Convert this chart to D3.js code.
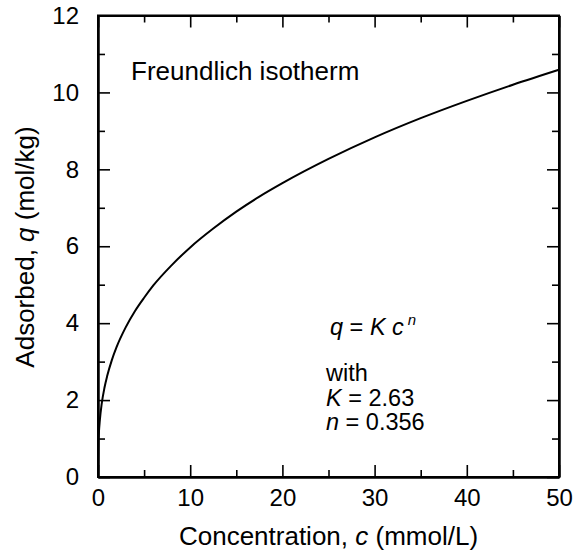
<!DOCTYPE html>
<html>
<head>
<meta charset="utf-8">
<script src="https://cdn.jsdelivr.net/npm/d3@7"></script>
<style>
  body { margin: 0; background: #fff; }
  svg { display: block; font-family: "Liberation Sans", Arial, sans-serif; }
</style>
</head>
<body>
<script>
// values
const conc = [0, 0.05, 0.1, 0.2, 0.4, 0.7, 1, 1.5, 2, 3, 4, 5, 6, 8, 10, 12.5, 15, 17.5, 20, 25, 30, 35, 40, 45, 50]
const adsorbed = [0, 0.9, 1.16, 1.48, 1.9, 2.32, 2.63, 3.04, 3.37, 3.89, 4.31, 4.66, 4.98, 5.51, 5.97, 6.46, 6.9, 7.29, 7.64, 8.27, 8.83, 9.33, 9.78, 10.2, 10.59]
const xTicks = [0, 10, 20, 30, 40, 50]
const yTicks = [0, 2, 4, 6, 8, 10, 12]

const w = 575
const h = 553
const m = { left: 98, right: 16, top: 15.5, bottom: 76 }

const x = d3.scaleLinear().domain([0, 50]).range([m.left, w - m.right])
const y = d3.scaleLinear().domain([0, 12]).range([h - m.bottom, m.top])

const svg = d3.select('body').append('svg').attr('width', w).attr('height', h)

const major = 12
const minor = 7
const xMinor = d3.range(5, 50, 10)
const yMinor = d3.range(1, 12, 2)

// bottom / top axes
const gBottom = svg.append('g').attr('transform', `translate(0,${y(0)})`)
  .call(d3.axisBottom(x).tickValues(xTicks).tickSize(-major).tickPadding(12).tickSizeOuter(0))
gBottom.append('g').call(d3.axisBottom(x).tickValues(xMinor).tickSize(-minor).tickFormat('').tickSizeOuter(0))
const gTop = svg.append('g').attr('transform', `translate(0,${y(12)})`)
  .call(d3.axisTop(x).tickValues(xTicks).tickSize(-major).tickFormat('').tickSizeOuter(0))
gTop.append('g').call(d3.axisTop(x).tickValues(xMinor).tickSize(-minor).tickFormat('').tickSizeOuter(0))

// left / right axes
const gLeft = svg.append('g').attr('transform', `translate(${x(0)},0)`)
  .call(d3.axisLeft(y).tickValues(yTicks).tickSize(-major).tickPadding(19).tickSizeOuter(0))
gLeft.append('g').call(d3.axisLeft(y).tickValues(yMinor).tickSize(-minor).tickFormat('').tickSizeOuter(0))
const gRight = svg.append('g').attr('transform', `translate(${x(50)},0)`)
  .call(d3.axisRight(y).tickValues(yTicks).tickSize(-major).tickFormat('').tickSizeOuter(0))
gRight.append('g').call(d3.axisRight(y).tickValues(yMinor).tickSize(-minor).tickFormat('').tickSizeOuter(0))

svg.selectAll('.domain').attr('stroke', '#000').attr('stroke-width', 2)
svg.selectAll('.tick line').attr('stroke', '#000').attr('stroke-width', 1.6)
svg.selectAll('.tick text').attr('font-size', 24).attr('fill', '#000')
  .attr('font-family', '"Liberation Sans", Arial, sans-serif')

// frame
svg.append('rect')
  .attr('x', x(0)).attr('y', y(12))
  .attr('width', x(50) - x(0)).attr('height', y(0) - y(12))
  .attr('fill', 'none').attr('stroke', '#000').attr('stroke-width', 2)

// curve
const pts = conc.map((c, i) => [c, adsorbed[i]])
svg.append('path')
  .datum(pts)
  .attr('fill', 'none')
  .attr('stroke', '#000')
  .attr('stroke-width', 2)
  .attr('d', d3.line().x((d) => x(d[0])).y((d) => y(d[1])).curve(d3.curveMonotoneX))

// axis titles
const xt = svg.append('text').attr('x', (x(0) + x(50)) / 2).attr('y', 545)
  .attr('text-anchor', 'middle').attr('font-size', 26)
xt.append('tspan').text('Concentration, ')
xt.append('tspan').attr('font-style', 'italic').text('c')
xt.append('tspan').text(' (mmol/L)')

const yt = svg.append('text').attr('transform', `translate(34,247) rotate(-90)`)
  .attr('text-anchor', 'middle').attr('font-size', 26)
yt.append('tspan').text('Adsorbed, ')
yt.append('tspan').attr('font-style', 'italic').text('q')
yt.append('tspan').text(' (mol/kg)')

// annotations
svg.append('text').attr('x', 131).attr('y', 80).attr('font-size', 26).text('Freundlich isotherm')

const eq = svg.append('text').attr('x', 330).attr('y', 335).attr('font-size', 23.5)
eq.append('tspan').attr('font-style', 'italic').text('q')
eq.append('tspan').text(' = ')
eq.append('tspan').attr('font-style', 'italic').text('K c')
eq.append('tspan').attr('font-style', 'italic').attr('font-size', 15).attr('dx', 4).attr('dy', -10).text('n')

svg.append('text').attr('x', 326).attr('y', 381).attr('font-size', 23.5).text('with')
const kt = svg.append('text').attr('x', 326).attr('y', 406).attr('font-size', 23.5)
kt.append('tspan').attr('font-style', 'italic').text('K')
kt.append('tspan').text(' = 2.63')
const nt = svg.append('text').attr('x', 326).attr('y', 430).attr('font-size', 23.5)
nt.append('tspan').attr('font-style', 'italic').text('n')
nt.append('tspan').text(' = 0.356')
</script>
</body>
</html>
